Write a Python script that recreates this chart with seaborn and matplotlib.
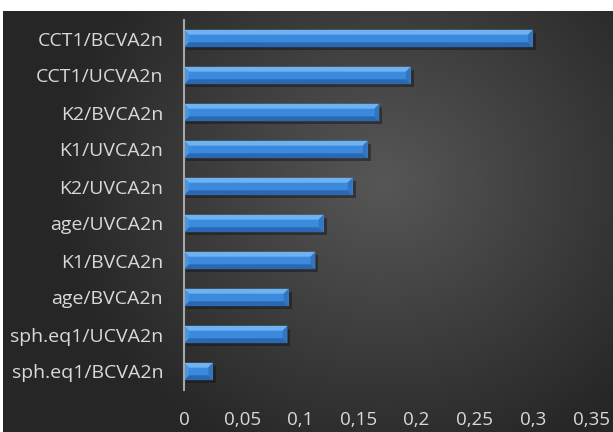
import numpy as np
import pandas as pd
import matplotlib
matplotlib.use("Agg")
import matplotlib.pyplot as plt
from matplotlib.patches import Polygon
from matplotlib.ticker import FuncFormatter
import seaborn as sns

# Ratios ranked from largest to smallest
labels = ["CCT1/BCVA2n", "CCT1/UCVA2n", "K2/BVCA2n", "K1/UVCA2n", "K2/UVCA2n",
          "age/UVCA2n", "K1/BVCA2n", "age/BVCA2n", "sph.eq1/UCVA2n", "sph.eq1/BCVA2n"]
values = [0.300, 0.195, 0.168, 0.158, 0.145, 0.120, 0.113, 0.090, 0.089, 0.025]
x_ticks = [0, 0.05, 0.1, 0.15, 0.2, 0.25, 0.3, 0.35]

df = pd.DataFrame({"label": labels, "value": values})

sns.set_theme(style="white")
plt.rcParams["font.family"] = ["Open Sans", "DejaVu Sans"]

W, H = 613, 432
fig = plt.figure(figsize=(W / 100, H / 100), dpi=100)
fig.patch.set_facecolor("white")

# Dark radial-gradient panel behind the chart
bg = fig.add_axes([3 / W, 0, 1 - 3 / W, 1 - 11 / H])
bg.set_axis_off()
yy, xx = np.mgrid[0:421, 0:610]
cx, cy = 380, 170
d = np.sqrt(((xx - cx) / 330.0) ** 2 + ((yy - cy) / 300.0) ** 2)
shade = np.clip(0.34 - 0.19 * d, 0.15, 0.34)
bg.imshow(np.dstack([shade, shade, shade]), aspect="auto", extent=[0, 1, 0, 1],
          interpolation="bilinear")
bg.set_xlim(0, 1)
bg.set_ylim(0, 1)

ax = fig.add_axes([184 / W, 1 - 390 / H, (591 - 184) / W, (390 - 20) / H])
ax.patch.set_alpha(0)
sns.barplot(data=df, x="value", y="label", orient="h", color="#3c8ade",
            width=0.47, saturation=1, ax=ax, zorder=3, edgecolor="none", linewidth=0)

ax.set_xlim(0, 0.35)
ax.set_ylim(len(labels) - 0.5, -0.5)
ax.set_xticks(x_ticks)
ax.xaxis.set_major_formatter(FuncFormatter(lambda v, p: ("%g" % v).replace(".", ",")))
ax.set_xlabel("")
ax.set_ylabel("")
ax.tick_params(axis="x", colors="#d9d9d9", labelsize=13.5, length=0, pad=15)
ax.tick_params(axis="y", colors="#d9d9d9", labelsize=14, length=0, pad=15)
for s in ["top", "right", "bottom"]:
    ax.spines[s].set_visible(False)
ax.spines["left"].set_color("#a6a6a6")
ax.spines["left"].set_linewidth(1.5)
ax.spines["left"].set_zorder(5)
ax.grid(False)

# Bevelled faces on each bar, built in display space from the bar geometry
fig.canvas.draw()
inv = ax.transData.inverted()
for bar in list(ax.patches):
    (x0, y0), (x1, y1) = ax.transData.transform(
        [(bar.get_x(), bar.get_y()), (bar.get_x() + bar.get_width(), bar.get_y() + bar.get_height())])
    top, bot = max(y0, y1), min(y0, y1)
    left, right = min(x0, x1), max(x0, x1)
    b = (top - bot) * 0.28
    bx = min(b, (right - left) / 2)

    def add(pts, color, z=4, alpha=1.0):
        ax.add_patch(Polygon(inv.transform(pts), closed=True, facecolor=color,
                             edgecolor="none", zorder=z, alpha=alpha))

    # soft shadow under the bar
    add([(left + 2, bot - 3), (right + 3, bot - 3), (right + 3, top - 3), (left + 2, top - 3)],
        "#111111", z=2, alpha=0.45)
    # top face
    add([(left, top), (right, top), (right - bx, top - b), (left + bx, top - b)], "#6eb2f2")
    # bottom face
    add([(left, bot), (right, bot), (right - bx, bot + b), (left + bx, bot + b)], "#2a68b2")
    # right end
    add([(right, top), (right, bot), (right - bx, bot + b), (right - bx, top - b)], "#3475c0")
    # left end
    add([(left, top), (left, bot), (left + bx, bot + b), (left + bx, top - b)], "#4a95e0")

fig.savefig("out.png", dpi=100)
